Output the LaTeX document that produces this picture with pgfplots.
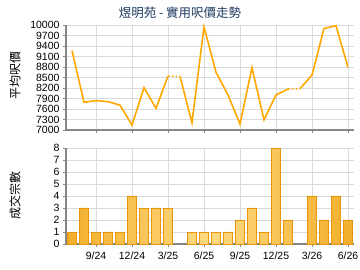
\documentclass[border=0pt]{standalone}
\usepackage{pgfplots}
\pgfplotsset{compat=1.18}
\usepackage{fontspec}
\setmainfont{Liberation Sans}
\newfontfamily\cjk{Noto Sans CJK TC}
\definecolor{linec}{RGB}{255,168,0}
\definecolor{bardark}{RGB}{232,150,10}
\definecolor{barmid}{RGB}{242,175,45}
\definecolor{barlight}{RGB}{255,218,130}
\definecolor{gridc}{RGB}{218,218,218}
\definecolor{axisc}{RGB}{135,135,135}
\definecolor{titlec}{RGB}{30,58,95}
\pgfplotsset{
  common/.style={
    scale only axis, anchor=south west,
    width=288pt, xmin=-0.5, xmax=23.5,
    xtick={2,5,...,23},
    axis x line*=bottom, axis y line*=left,
    axis line style={axisc, line width=1.3pt},
    grid=major, grid style={gridc, line width=0.9pt},
    tick align=outside, major tick length=3pt,
    tick style={axisc, line width=0.8pt},
    ticklabel style={font=\fontsize{10.5}{12}\selectfont},
    scaled y ticks=false,
    yticklabel style={/pgf/number format/fixed, /pgf/number format/precision=0},
    /pgf/number format/assume math mode=true,
    /pgf/number format/1000 sep={},
    clip=false,
  }
}
\pgfplotstableread{
x y
0 9270
1 7790
2 7840
3 7810
4 7710
5 7140
6 8210
7 7620
8 8540
}\segA
\pgfplotstableread{
x y
8 8540
9 8530
}\dotA
\pgfplotstableread{
x y
9 8530
10 7210
11 9950
12 8650
13 8000
14 7170
15 8780
16 7290
17 8000
18 8170
}\segB
\pgfplotstableread{
x y
18 8170
19 8180
}\dotB
\pgfplotstableread{
x y
19 8180
20 8570
21 9900
22 9980
23 8790
}\segC
\pgfplotstableread{
x y
0 1
1 3
2 1
3 1
4 1
5 4
6 3
7 3
8 3
10 1
11 1
12 1
13 1
14 2
15 3
16 1
17 8
18 2
20 4
21 2
22 4
23 2
}\bars
\begin{document}
\begin{tikzpicture}[x=1pt,y=1pt]
\path[use as bounding box] (0,0) rectangle (360,270);
\begin{axis}[common, at={(66pt,140pt)}, height=105pt,
  ymin=7000, ymax=10000, ytick={7000,7300,...,10000},
  xticklabels={}]
\addplot[linec, line width=1.6pt, no markers] table {\segA};
\addplot[linec, line width=1.6pt, no markers, dash pattern=on 1.6pt off 2.2pt] table {\dotA};
\addplot[linec, line width=1.6pt, no markers] table {\segB};
\addplot[linec, line width=1.6pt, no markers, dash pattern=on 1.6pt off 2.2pt] table {\dotB};
\addplot[linec, line width=1.6pt, no markers] table {\segC};
\end{axis}
\begin{axis}[common, at={(66pt,26pt)}, height=96pt,
  ymin=0, ymax=8, ytick={0,1,...,8},
  xticklabels={9/24,12/24,3/25,6/25,9/25,12/25,3/26,6/26},
  xticklabel style={yshift=-1.5pt}]
\addplot[ybar, bar width=8.5pt, draw=bardark, line width=0.6pt,
  left color=barmid, right color=barmid, middle color=barlight] table {\bars};
\end{axis}
\node[font=\cjk\fontsize{12.5}{14}\selectfont, text=titlec] at (180,257) {煜明苑 - 實用呎價走勢};
\node[rotate=90, font=\cjk\fontsize{12}{14}\selectfont] at (15,194) {平均呎價};
\node[rotate=90, font=\cjk\fontsize{12}{14}\selectfont] at (15,74) {成交宗數};
\end{tikzpicture}
\end{document}
